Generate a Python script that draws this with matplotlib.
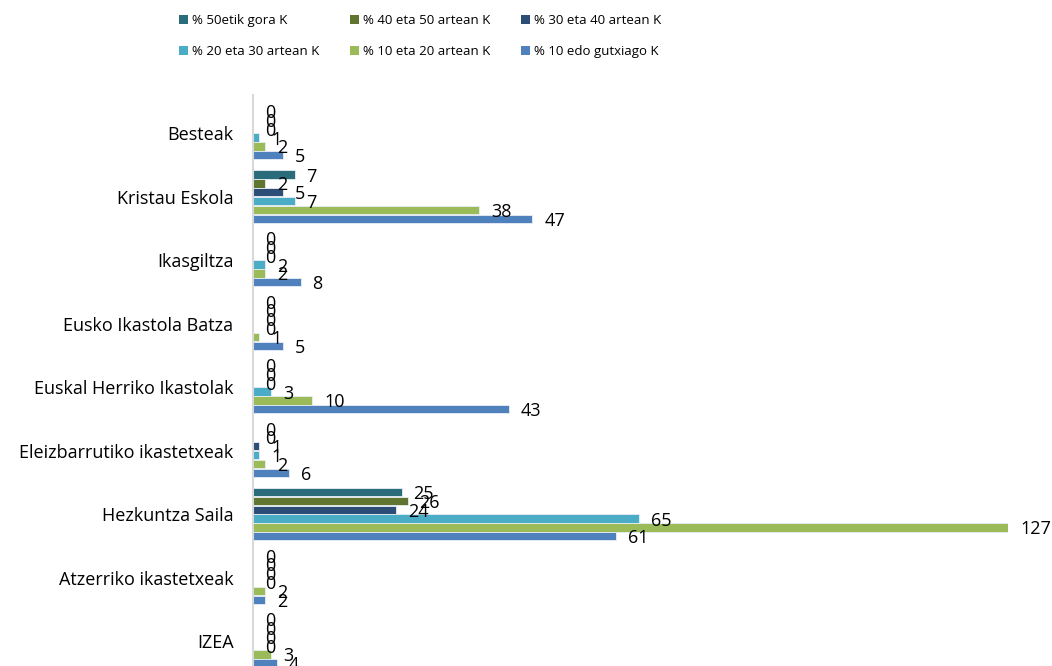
import numpy as np
import matplotlib.pyplot as plt
from matplotlib.patches import Patch

plt.rcParams['font.family'] = ['Open Sans', 'DejaVu Sans']

categories = ['Besteak', 'Kristau Eskola', 'Ikasgiltza', 'Eusko Ikastola Batza',
              'Euskal Herriko Ikastolak', 'Eleizbarrutiko ikastetxeak',
              'Hezkuntza Saila', 'Atzerriko ikastetxeak', 'IZEA']

series_names = ['% 50etik gora K', '% 40 eta 50 artean K', '% 30 eta 40 artean K',
                '% 20 eta 30 artean K', '% 10 eta 20 artean K', '% 10 edo gutxiago K']

gora50 = [0, 7, 0, 0, 0, 0, 25, 0, 0]
artean40_50 = [0, 2, 0, 0, 0, 0, 26, 0, 0]
artean30_40 = [0, 5, 0, 0, 0, 1, 24, 0, 0]
artean20_30 = [1, 7, 2, 0, 3, 1, 65, 0, 0]
artean10_20 = [2, 38, 2, 1, 10, 2, 127, 2, 3]
gutxiago10 = [5, 47, 8, 5, 43, 6, 61, 2, 4]

series = [gora50, artean40_50, artean30_40, artean20_30, artean10_20, gutxiago10]
colors = ['#2B6C7B', '#5F7530', '#2C4D75', '#4BACC6', '#9BBB59', '#4F81BD']

fig = plt.figure(figsize=(10.52, 6.66), dpi=100)
ax = fig.add_axes([253/1052, -7/666, (1008-253)/1052, 578/666])

y = np.arange(len(categories))
n = len(series)
bh = 0.139
for i, (vals, col) in enumerate(zip(series, colors)):
    pos = y - (n - 1) / 2 * bh + i * bh
    ax.barh(pos, vals, height=bh * 0.95, color=col, edgecolor='#e8eef5', linewidth=0.6)
    for p, v in zip(pos, vals):
        ax.annotate(str(v), (v, p), xytext=(12, -2), textcoords='offset pixels',
                    ha='left', va='center', fontsize=13, color='black',
                    annotation_clip=False)

ax.set_xlim(0, 127)
ax.set_ylim(8.5, -0.6)
ax.set_yticks(y)
ax.set_yticklabels(categories, fontsize=13)
ax.tick_params(axis='y', length=0, pad=14)
ax.set_xticks([])
for s in ['top', 'right', 'bottom']:
    ax.spines[s].set_visible(False)
ax.spines['left'].set_color('#d9d9d9')
ax.spines['left'].set_linewidth(1.5)

handles = [Patch(facecolor=c) for c in colors]
order = [0, 3, 1, 4, 2, 5]
fig.legend([handles[k] for k in order], [series_names[k] for k in order],
           ncol=3, loc='upper left', bbox_to_anchor=(167/1052, 0.997), frameon=False,
           fontsize=9.5, handlelength=0.7, handleheight=0.7, handletextpad=0.3,
           columnspacing=2.3, labelspacing=1.4)

fig.savefig('out.png', dpi=100)
